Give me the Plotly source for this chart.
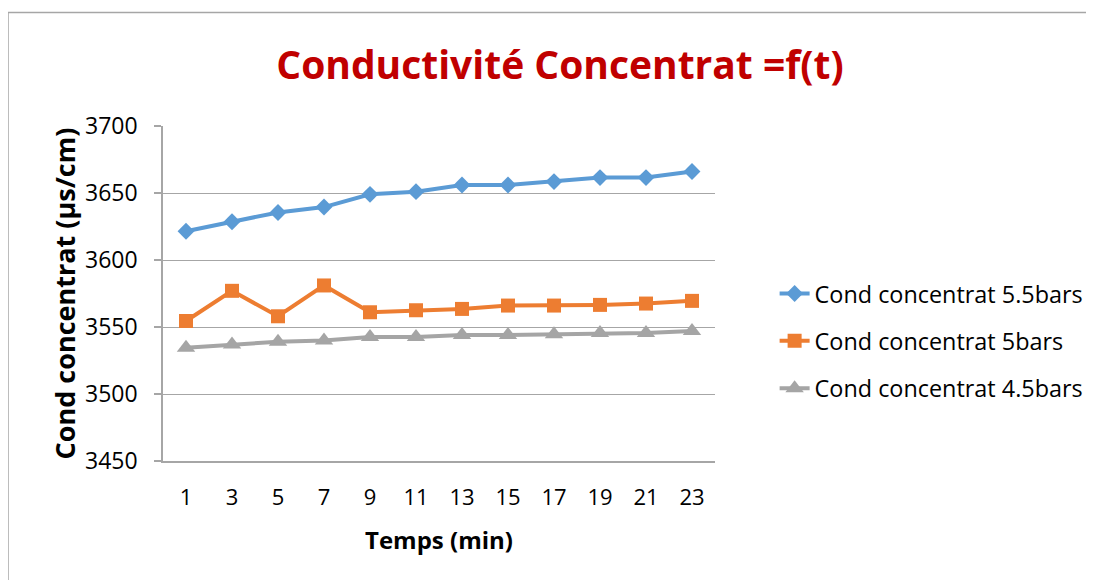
import plotly.graph_objects as go

temps = ["1", "3", "5", "7", "9", "11", "13", "15", "17", "19", "21", "23"]
cond_55 = [3621.5, 3628.5, 3635.5, 3639.5, 3649, 3651, 3656, 3656, 3658.5, 3661.5, 3661.5, 3666]
cond_5 = [3554.5, 3577, 3558, 3581, 3561, 3562.5, 3563.5, 3566, 3566, 3566.5, 3567.5, 3569.5]
cond_45 = [3534.5, 3537, 3539, 3540, 3542.5, 3542.5, 3544, 3544, 3544.5, 3545.5, 3545.5, 3547]

names = ["Cond concentrat 5.5bars", "Cond concentrat 5bars", "Cond concentrat 4.5bars"]
colors = ["#5B9BD5", "#ED7D31", "#A5A5A5"]
symbols = ["diamond", "square", "triangle-up"]
sizes = [13, 14, 16]

FONT = "Open Sans"

fig = go.Figure()
for i, (vals, name) in enumerate(zip([cond_55, cond_5, cond_45], names)):
    fig.add_trace(go.Scatter(
        x=temps, y=vals, name=name, mode="lines+markers",
        legendgroup=f"g{i}",
        line=dict(color=colors[i], width=4),
        marker=dict(symbol=symbols[i], size=sizes[i], color=colors[i]),
    ))

# page is offset by 8px body margin; plot area in page coords: x 163..715, y 126..461
fig.update_layout(
    width=1094, height=580,
    margin=dict(l=155, r=387, t=118, b=127),
    paper_bgcolor="white", plot_bgcolor="white",
    font=dict(family=FONT, color="#000000", size=22),
    title=dict(text="<b>Conductivité Concentrat =f(t)</b>",
               font=dict(family=FONT, size=39, color="#C00000"),
               x=552 / 1094, xanchor="center", xref="container",
               y=1 - 57 / 580, yanchor="middle", yref="container"),
    showlegend=True,
    legend=dict(x=1.108, xanchor="left", y=0.565, yanchor="top",
                font=dict(family=FONT, size=23.4, color="#000000"),
                traceorder="grouped", tracegroupgap=14,
                bgcolor="rgba(0,0,0,0)"),
    shapes=[dict(type="rect", xref="paper", yref="paper",
                 x0=(8 - 163) / 552, x1=(1110 - 163) / 552,
                 y0=-0.5, y1=(461 - 12.5) / 335,
                 line=dict(color="#A6A6A6", width=1.5), layer="below")],
)

fig.update_xaxes(
    type="category", range=[-0.5, len(temps) - 0.5],
    showline=True, linecolor="#A6A6A6", linewidth=1.5,
    showgrid=False, ticks="", ticklabelstandoff=16,
    tickfont=dict(family=FONT, size=22, color="#000000"),
    title=dict(text="<b>Temps (min)</b>", font=dict(family=FONT, size=24, color="#000000"), standoff=22),
)
fig.update_yaxes(
    range=[3450, 3700], dtick=50,
    showline=True, linecolor="#A6A6A6", linewidth=1.5,
    showgrid=True, gridcolor="#A6A6A6", gridwidth=1,
    ticks="outside", ticklen=7, tickcolor="#A6A6A6", tickwidth=1.5,
    ticklabelstandoff=12,
    tickfont=dict(family=FONT, size=23, color="#000000"),
    title=dict(text="<b>Cond concentrat (µs/cm)</b>", font=dict(family=FONT, size=27, color="#000000"), standoff=2),
    zeroline=False,
)

fig.write_html("out.html")
